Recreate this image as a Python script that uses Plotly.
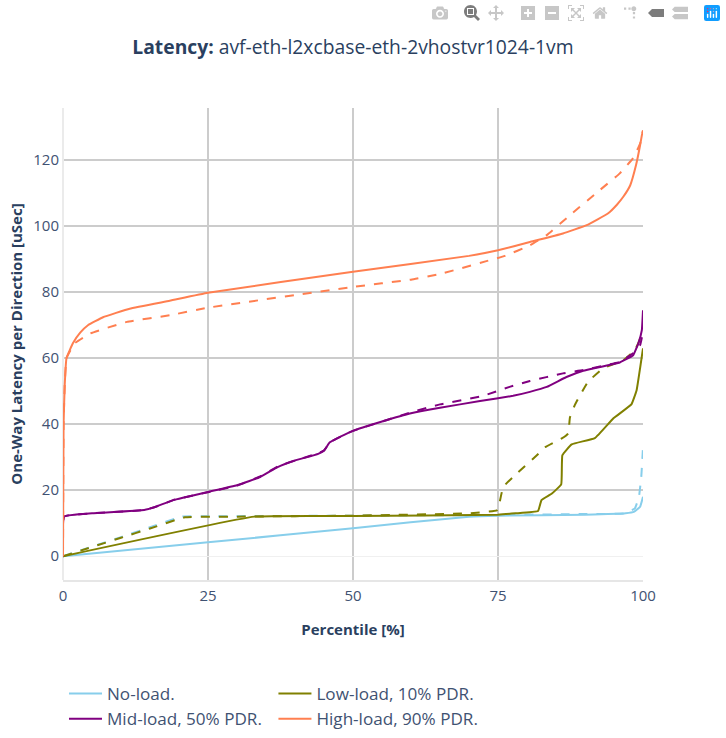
import plotly.graph_objects as go

TITLE = "<b>Latency:</b> avf-eth-l2xcbase-eth-2vhostvr1024-1vm"
names = ["No-load.", "Low-load, 10% PDR.", "Mid-load, 50% PDR.", "High-load, 90% PDR."]
colors = ["#87CEEB", "#808000", "#800080", "#FF7F50"]

no_x = [0, 25, 50, 70, 75, 90, 97, 98.5, 99.5, 100]
no_y = [0, 4.2, 8.5, 12, 12.3, 12.6, 13, 13.5, 15, 18]
no_dx = [0, 5, 10, 15, 20.5, 25, 50, 75, 90, 97, 98.6, 99.3, 99.7, 100]
no_dy = [0, 2.9, 5.8, 8.8, 12, 12.1, 12.3, 12.5, 12.8, 13, 14.5, 18, 24, 33]

low_x = [0, 33, 50, 75, 78, 81.9, 82.5, 84.3, 85.9, 86.1, 87.7, 91.7, 94.9, 98, 98.9, 99.5, 100]
low_y = [0, 12, 12.2, 12.6, 13, 13.7, 17, 19, 21.8, 30.6, 33.9, 35.8, 41.8, 46, 50.3, 57, 63]
low_dx = [0, 5, 10, 15, 21, 30, 50, 70, 74.8, 75.1, 75.9, 78.2, 81.7, 83.1, 86, 87.1, 87.4, 88.3, 90.5, 93.1, 96.6, 98.6, 100]
low_dy = [0, 2.8, 5.6, 8.4, 11.8, 12, 12.3, 13, 13.9, 14.9, 21, 25, 30.6, 33, 35.7, 37.2, 42, 46, 52.8, 56.9, 59.4, 62.4, 68]

mid_x = [0, 0.2, 5, 14, 16, 19, 25, 30, 34, 37, 40, 44, 45, 46, 47, 50, 55, 60, 65, 71.9, 77.6, 80.5, 83.4, 86.8, 89.7, 96, 98.3, 99.2, 99.8, 100]
mid_y = [0, 12, 13, 14, 15, 17, 19.5, 21.5, 24, 27, 29, 31, 32, 34.5, 35.5, 38, 40.8, 43.3, 45, 47, 48.6, 49.8, 51.3, 54.3, 56.2, 58.7, 60.9, 64.5, 68.5, 74.5]
mid_dx = [0, 0.2, 5, 14, 16, 19, 25, 30, 34, 37, 40, 44, 45, 46, 47, 50, 55, 60, 65, 72.4, 77, 80.5, 86.2, 89.7, 96, 98.3, 99.5, 100]
mid_dy = [0, 12, 13, 14, 15, 17, 19.4, 21.4, 24.2, 27.2, 29, 31.2, 32, 34.5, 35.5, 38, 40.8, 43.6, 46, 48.6, 51.3, 53.1, 55.4, 56.4, 58.9, 61.5, 64, 68]

high_x = [0, 0.1, 0.3, 0.6, 1.7, 3, 4.3, 6.9, 11.5, 18.4, 25, 50, 70, 75, 80.5, 86.2, 90.3, 94, 95.5, 96.6, 97.8, 98.8, 99.5, 99.8, 100]
high_y = [0, 40, 52, 60, 64.5, 67.8, 70, 72.4, 75, 77.4, 79.8, 86.2, 91, 92.7, 95.2, 97.8, 100.3, 103.9, 106.5, 108.9, 112.4, 118.5, 124.5, 127.5, 129]
high_dx = [0, 0.1, 0.3, 0.6, 2, 4.7, 11, 18.4, 25, 50, 60, 65, 73, 76.2, 80.5, 83.4, 87.4, 92.6, 96, 98.3, 99.5, 100]
high_dy = [0, 40, 52, 60, 64.5, 67.5, 71, 73, 75.3, 81.6, 83.8, 85.5, 89.4, 91, 94.2, 97.3, 103.3, 111, 116, 120.6, 125, 129]

series = [
    (no_x, no_y, no_dx, no_dy),
    (low_x, low_y, low_dx, low_dy),
    (mid_x, mid_y, mid_dx, mid_dy),
    (high_x, high_y, high_dx, high_dy),
]

fig = go.Figure()
for name, color, (x, y, dx, dy) in zip(names, colors, series):
    fig.add_trace(go.Scatter(x=x, y=y, mode="lines", name=name, legendgroup=name,
                             line=dict(color=color, width=2, shape="spline", smoothing=0.3)))
    fig.add_trace(go.Scatter(x=dx, y=dy, mode="lines", name=name, legendgroup=name, showlegend=False,
                             line=dict(color=color, width=2, dash="dash", shape="spline", smoothing=0.3)))

tick_font = dict(size=15, color="#3f5272")
fig.update_layout(
    width=726, height=738,
    autosize=False,
    hovermode="closest",
    paper_bgcolor="white", plot_bgcolor="white",
    font=dict(family="Open Sans, sans-serif", size=15, color="#2a3f5f"),
    title=dict(text=TITLE, x=0.4862, xanchor="center", y=0.9363, yanchor="middle",
               font=dict(size=19.3)),
    margin=dict(l=63, r=83, t=108, b=158, autoexpand=False),
    showlegend=True,
    legend=dict(orientation="h", x=0.0017, xanchor="left", y=-0.2033, yanchor="top",
                font=dict(size=17.1, color="#3f5272"), traceorder="normal", itemwidth=33),
    xaxis=dict(title=dict(text="<b>Percentile [%]</b>", font=dict(size=15), standoff=20),
               range=[0, 100], tickmode="array", tickvals=[0, 25, 50, 75, 100],
               showgrid=True, gridcolor="rgb(204,204,204)", gridwidth=2,
               zeroline=True, zerolinecolor="rgb(235,235,235)", zerolinewidth=2,
               showline=True, linecolor="rgb(230,230,230)", linewidth=2,
               ticks="outside", ticklen=1, tickcolor="white", tickfont=tick_font),
    yaxis=dict(title=dict(text="<b>One-Way Latency per Direction [uSec]</b>", font=dict(size=15), standoff=7),
               range=[-7.2, 135.8], tickmode="array", tickvals=[0, 20, 40, 60, 80, 100, 120],
               showgrid=True, gridcolor="rgb(204,204,204)", gridwidth=1.5,
               zeroline=True, zerolinecolor="rgb(240,240,240)", zerolinewidth=1,
               showline=False, ticks="", ticklabelstandoff=3, tickfont=tick_font),
    shapes=[dict(type="line", xref="x", yref="paper", x0=50, x1=50, y0=0, y1=1,
                 line=dict(color="rgb(176,176,176)", width=2), layer="below")],
)
post = """
document.body.style.margin='0';
var r = document.querySelector('.modebar-btn--logo svg rect');
if (r) { r.style.fill = '#119DFF'; }
"""
fig.write_html("out.html",
               config=dict(displayModeBar=True, displaylogo=True,
                           modeBarButtons=[["toImage"], ["zoom2d", "pan2d"],
                                           ["zoomIn2d", "zoomOut2d", "autoScale2d", "resetScale2d"],
                                           ["toggleSpikelines", "hoverClosestCartesian", "hoverCompareCartesian"]]),
               post_script=post)
